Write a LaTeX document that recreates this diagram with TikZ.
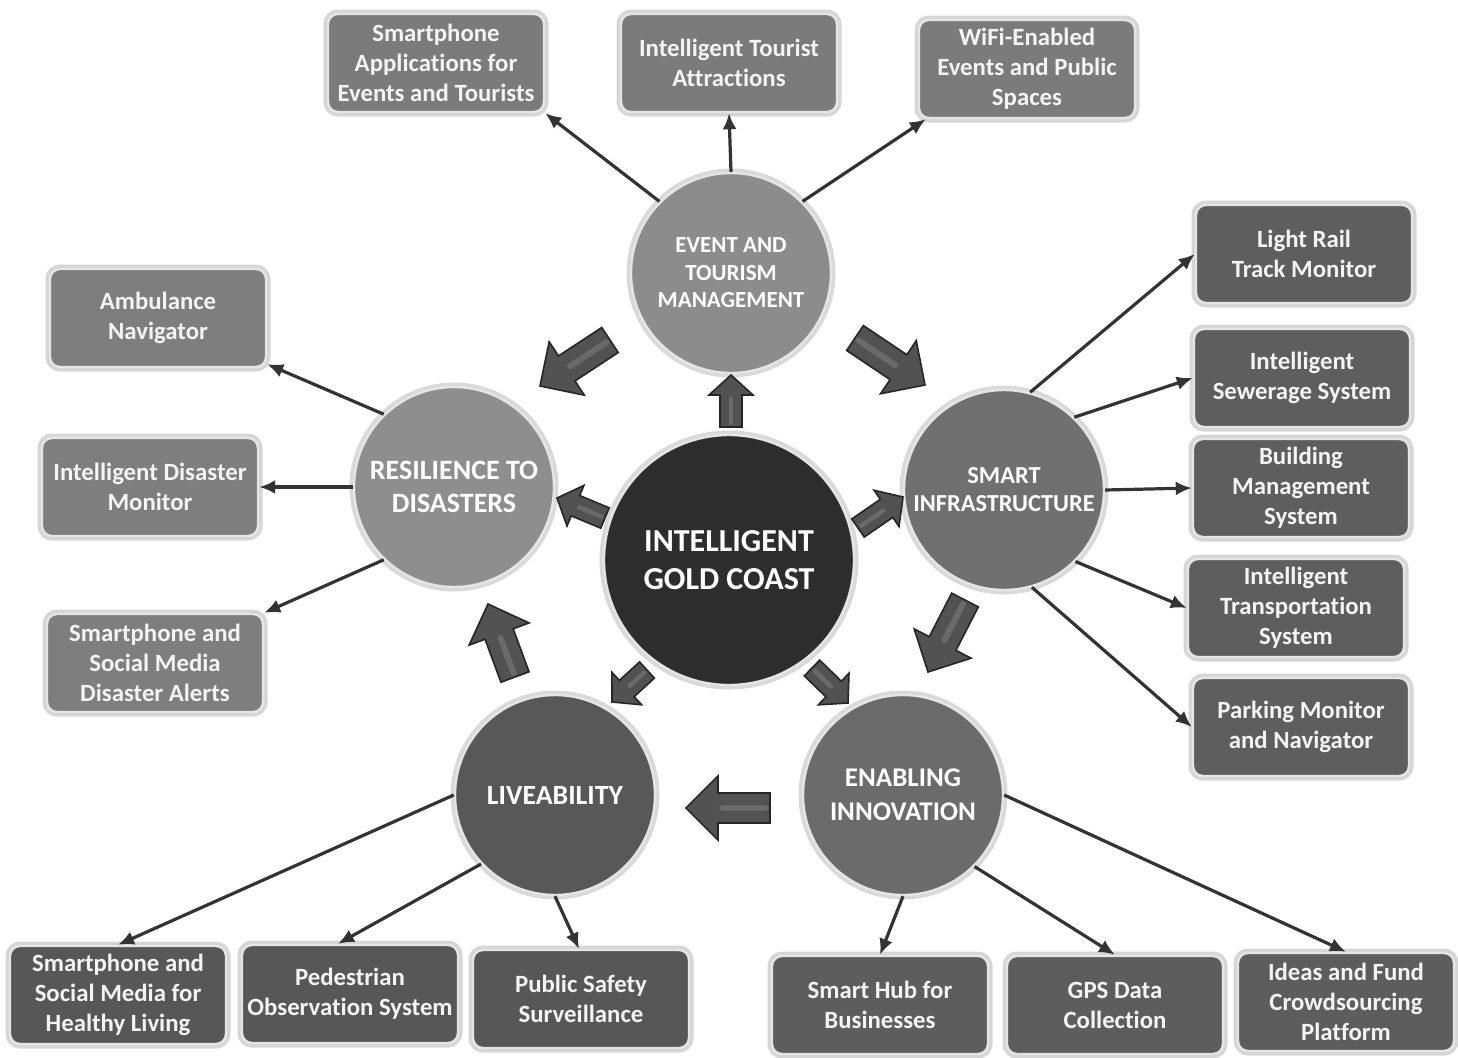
\documentclass[tikz,border=0pt]{standalone}
\usepackage{fontspec}
\setmainfont{Carlito}[Ligatures=NoCommon]
\usetikzlibrary{calc,arrows.meta}
\definecolor{topbox}{HTML}{7B7B7B}
\definecolor{leftbox}{HTML}{7E7E7E}
\definecolor{rightbox}{HTML}{5E5E5E}
\definecolor{botlbox}{HTML}{575757}
\definecolor{botrbox}{HTML}{5D5D5D}
\definecolor{evcol}{HTML}{8C8C8C}
\definecolor{rescol}{HTML}{8E8E8E}
\definecolor{smicol}{HTML}{707070}
\definecolor{enabcol}{HTML}{6B6B6B}
\definecolor{livecol}{HTML}{585858}
\definecolor{igccol}{HTML}{2D2D2D}
\definecolor{linecol}{HTML}{333333}
\definecolor{bafill}{HTML}{525252}
\definecolor{baedge}{HTML}{262626}
\definecolor{txtcol}{HTML}{F4F4F4}
\newcommand\fatarrow[5]{%
  \coordinate (neck) at ($(#2)!#5!(#1)$);
  \draw[blockarr] ($(#1)!#3!90:(#2)$) -- ($(neck)!#3!-90:(#1)$) -- ($(neck)!#4!-90:(#1)$) -- (#2)
     -- ($(neck)!#4!90:(#1)$) -- ($(neck)!#3!90:(#1)$) -- ($(#1)!#3!-90:(#2)$) -- cycle;
  \draw[line width=0.4*#3, draw=white, opacity=0.14, line cap=round] ($(#1)!2pt!(#2)$) -- ($(neck)!2pt!(#1)$);
}
\begin{document}
\begin{tikzpicture}[x=0.5pt,y=-0.5pt,
  box/.style={rounded corners=5pt, minimum width=108pt, minimum height=49pt, inner sep=1pt,
    align=center, font=\bfseries\fontsize{12.4}{15}\selectfont, text=txtcol,
    draw=white!90!black, line width=1.2pt, preaction={draw=black!16, line width=4.5pt}},
  circ/.style={circle, minimum size=100pt, inner sep=0pt, align=center, text=white,
    draw=white!90!black, line width=1.2pt, preaction={draw=black!15, line width=4.5pt}},
  conn/.style={draw=linecol, line width=1.6pt, -{Latex[length=8pt,width=7pt]}},
  blockarr/.style={fill=bafill, draw=baedge, line width=0.8pt, line join=miter}
]
\fill[white] (0,0) rectangle (1458,1057);
\useasboundingbox (0,0) rectangle (1458,1057);

% circles
\node[circ, fill=igccol, minimum size=125pt, font=\bfseries\fontsize{16}{19}\selectfont] (igc) at (729,560) {INTELLIGENT\\GOLD COAST};
\node[circ, fill=evcol, font=\bfseries\fontsize{11.5}{13.75}\selectfont] (ev) at (731,273) {EVENT AND\\TOURISM\\MANAGEMENT};
\node[circ, fill=rescol, font=\bfseries\fontsize{14}{16.5}\selectfont] (res) at (454,487) {RESILIENCE TO\\DISASTERS};
\node[circ, fill=smicol, font=\bfseries\fontsize{12.2}{14}\selectfont] (smi) at (1004,490) {SMART\\INFRASTRUCTURE};
\node[circ, fill=enabcol, font=\bfseries\fontsize{13.5}{17}\selectfont] (enab) at (903,795) {ENABLING\\INNOVATION};
\node[circ, fill=livecol, font=\bfseries\fontsize{13.9}{17}\selectfont] (live) at (555,795) {LIVEABILITY};

% top boxes
\node[box, fill=topbox] (sa) at (436,63) {Smartphone\\Applications for\\Events and Tourists};
\node[box, fill=topbox] (ita) at (729,63) {Intelligent Tourist\\Attractions};
\node[box, fill=topbox] (wifi) at (1027,69) {WiFi-Enabled\\Events and Public\\Spaces};
% left boxes
\node[box, fill=leftbox] (amb) at (158,318) {Ambulance\\Navigator};
\node[box, fill=leftbox] (idm) at (150,487) {Intelligent Disaster\\Monitor};
\node[box, fill=leftbox] (alert) at (155,663) {Smartphone and\\Social Media\\Disaster Alerts};
% right boxes
\node[box, fill=rightbox] (lr) at (1304,254) {Light Rail\\Track Monitor};
\node[box, fill=rightbox] (sew) at (1302,378) {Intelligent\\Sewerage System};
\node[box, fill=rightbox] (bms) at (1301,488) {Building\\Management\\System};
\node[box, fill=rightbox] (its) at (1296,608) {Intelligent\\Transportation\\System};
\node[box, fill=rightbox] (pmn) at (1301,727) {Parking Monitor\\and Navigator};
% bottom boxes
\node[box, fill=botlbox] (hl) at (118,995) {Smartphone and\\Social Media for\\Healthy Living};
\node[box, fill=botlbox] (pos) at (350,994) {Pedestrian\\Observation System};
\node[box, fill=botlbox] (pss) at (581,999) {Public Safety\\Surveillance};
\node[box, fill=botrbox] (hub) at (880,1005) {Smart Hub for\\Businesses};
\node[box, fill=botrbox] (gps) at (1115,1005) {GPS Data\\Collection};
\node[box, fill=botrbox] (idea) at (1346,1002) {Ideas and Fund\\Crowdsourcing\\Platform};

% connectors
\draw[conn] (ev.135) -- (sa.south east);
\draw[conn] (ev.north) -- (ita.south);
\draw[conn] (ev.45) -- ([xshift=4pt]wifi.south west);
\draw[conn] (res.134) -- ([yshift=2pt]amb.south east);
\draw[conn] (res.west) -- (idm.east);
\draw[conn] (res.226) -- (alert.north east);
\draw[conn] (smi.75) -- (lr.west);
\draw[conn] (smi.46) -- (sew.west);
\draw[conn] (smi.east) -- (bms.west);
\draw[conn] (smi.-45) -- (its.west);
\draw[conn] (smi.-74) -- (pmn.west);
\draw[conn] (live.west) -- (hl.north);
\draw[conn] (live.223) -- ([xshift=-6pt]pos.north);
\draw[conn] (live.south) -- ([xshift=-1pt]pss.north);
\draw[conn] (enab.south) -- (hub.north);
\draw[conn] (enab.-45) -- (gps.north);
\draw[conn] (enab.east) -- (idea.north);

% block arrows
\coordinate (a1s) at (610,340); \coordinate (a1e) at (540,386);
\coordinate (a2s) at (855,338); \coordinate (a2e) at (925,385);
\coordinate (a3s) at (731,427); \coordinate (a3e) at (731,375);
\coordinate (a4s) at (605,518); \coordinate (a4e) at (557,498);
\coordinate (a5s) at (858,528); \coordinate (a5e) at (903,497);
\coordinate (a6s) at (647,670); \coordinate (a6e) at (612,702);
\coordinate (a7s) at (812,668); \coordinate (a7e) at (848,703);
\coordinate (a8s) at (965,600); \coordinate (a8e) at (928,672);
\coordinate (a9s) at (770,808); \coordinate (a9e) at (686,808);
\coordinate (a10s) at (515,677); \coordinate (a10e) at (488,604);
\fatarrow{a1s}{a1e}{7.5pt}{16pt}{16pt}
\fatarrow{a2s}{a2e}{7.5pt}{16pt}{16pt}
\fatarrow{a3s}{a3e}{5.5pt}{11pt}{10pt}
\fatarrow{a4s}{a4e}{5.5pt}{11pt}{10pt}
\fatarrow{a5s}{a5e}{5.5pt}{11pt}{10pt}
\fatarrow{a6s}{a6e}{5.5pt}{11pt}{10pt}
\fatarrow{a7s}{a7e}{5.5pt}{11pt}{10pt}
\fatarrow{a8s}{a8e}{7.5pt}{16pt}{16pt}
\fatarrow{a9s}{a9e}{7.5pt}{16pt}{16pt}
\fatarrow{a10s}{a10e}{7.5pt}{16pt}{16pt}
\end{tikzpicture}
\end{document}
